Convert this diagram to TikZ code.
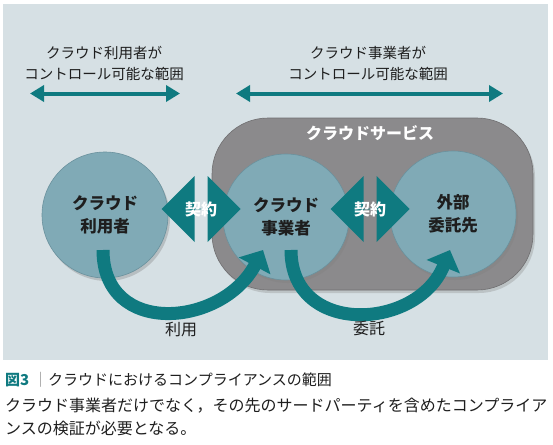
\documentclass[tikz,border=0pt]{standalone}
\usepackage{fontspec}
\setmainfont{Noto Sans CJK JP}
\usetikzlibrary{positioning, arrows.meta, shapes.arrows, shadows}
\definecolor{panelbg}{HTML}{D6E0E4}
\definecolor{circfill}{HTML}{80AAB6}
\definecolor{circline}{HTML}{6A919D}
\definecolor{svcgray}{HTML}{8B8A8C}
\definecolor{tealarr}{HTML}{0F7A80}
\definecolor{textdark}{HTML}{1E1E1E}

\begin{document}
\begin{tikzpicture}[
    x=1pt, y=-1pt,
    party/.style={circle, draw=circline, line width=0.6pt, fill=circfill, minimum size=126pt, inner sep=0pt, align=center, text=textdark, font=\bfseries\fontsize{16.5}{23}\selectfont, drop shadow={shadow xshift=2pt, shadow yshift=-3pt, opacity=0.35}},
    svc/.style={rectangle, rounded corners=56pt, fill=svcgray, draw=svcgray!80!black, line width=0.6pt, minimum width=321pt, minimum height=172pt, drop shadow={shadow xshift=2pt, shadow yshift=-3pt, opacity=0.3}},
    deal/.style={double arrow, fill=tealarr, double arrow tip angle=90, double arrow head extend=14pt, minimum height=79pt, minimum width=66pt, inner sep=0pt},
    dealtext/.style={text=white, font=\bfseries\fontsize{16}{20}\selectfont},
    rangearr/.style={{Triangle[length=14pt, width=16pt]}-{Triangle[length=14pt, width=16pt]}, line width=4pt, tealarr},
    flow/.style={-{Triangle[length=18pt, width=35pt]}, line width=13pt, tealarr},
    rangetext/.style={align=center, text=textdark, font=\fontsize{14.5}{21}\selectfont},
    flowtext/.style={text=textdark, font=\fontsize{16}{20}\selectfont}
]
    \useasboundingbox (0,0) rectangle (553,444);
    \fill[panelbg] (3,4) rectangle (548,360);

    \node[rangetext] (userrange) at (104,63.5) {クラウド利用者が\\コントロール可能な範囲};
    \node[rangetext] (provrange) at (368,63.5) {クラウド事業者が\\コントロール可能な範囲};
    \coordinate (ul) at (30,93.5);
    \coordinate (ur) at (180,93.5);
    \coordinate (pl) at (236,93.5);
    \coordinate (pr) at (503,93.5);
    \draw[rangearr] (ul) -- (ur);
    \draw[rangearr] (pl) -- (pr);

    \node[svc] (service) at (372.5,204) {};
    \node[text=white, font=\bfseries\fontsize{16}{20}\selectfont] (svctitle) at (370,133) {クラウドサービス};

    \node[party] (user) at (105,215) {クラウド\\利用者};
    \node[party] (provider) at (286,217) {クラウド\\事業者};
    \node[party] (outsrc) at (453,214) {外部\\委託先};

    \node[deal] (deal1) at (201,209) {};
    \node[dealtext] (deal1txt) at (deal1) {契約};
    \node[deal] (deal2) at (370,209) {};
    \node[dealtext] (deal2txt) at (deal2) {契約};

    \coordinate (use-a) at (103,250);
    \coordinate (use-b) at (263,250);
    \coordinate (out-a) at (291,250);
    \coordinate (out-b) at (450,250);
    \draw[flow] (use-a) to[out=-90, in=-118, looseness=1.4] (use-b);
    \draw[flow] (out-a) to[out=-90, in=-112, looseness=1.4] (out-b);
    \node[flowtext] (uselbl) at (181,330) {利用};
    \node[flowtext] (outlbl) at (369,328) {委託};

    \node[anchor=west, inner sep=0pt, text=tealarr, font=\bfseries\fontsize{15}{18}\selectfont] (fignum) at (5,380) {図3};
    \node[anchor=west, inner sep=0pt, text=gray, font=\fontsize{15}{18}\selectfont] (figbar) at (33,380) {｜};
    \node[anchor=west, inner sep=0pt, text=textdark, font=\fontsize{15}{18}\selectfont] (figtitle) at (48,380) {クラウドにおけるコンプライアンスの範囲};
    \node[anchor=west, inner sep=0pt, align=left, text=textdark, font=\fontsize{16}{23}\selectfont] (figbody) at (5,416.5) {クラウド事業者だけでなく，その先のサードパーティを含めたコンプライア\\ンスの検証が必要となる。};
\end{tikzpicture}
\end{document}
